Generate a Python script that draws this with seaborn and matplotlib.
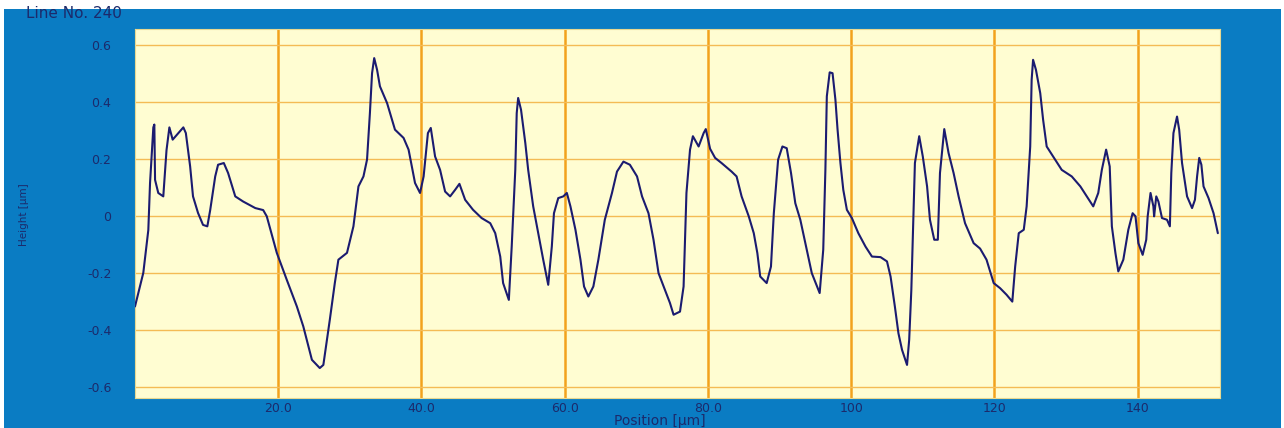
import matplotlib
matplotlib.use("Agg")
import matplotlib.pyplot as plt
from matplotlib.patches import Rectangle
import seaborn as sns
import pandas as pd

position = [0, 1.16, 1.86, 2.1, 2.56, 2.7, 2.8, 3.25, 3.95, 4.4, 4.8, 5.26, 6.05, 6.75, 7.1,
            7.7, 8.1, 8.8, 9.5, 10.1, 10.5, 11.2, 11.6, 12.4, 13.0, 14.0, 15.1, 16.8, 17.9,
            18.4, 19.8, 21.2, 22.6, 23.5, 24.7, 25.8, 26.3, 27.2, 27.9, 28.4, 29.6, 30.5,
            31.2, 31.9, 32.4, 32.8, 33.1, 33.4, 33.8, 34.2, 35.2, 36.3, 37.5, 38.2, 39.1,
            39.8, 40.3, 40.9, 41.3, 41.9, 42.6, 43.3, 44.0, 44.7, 45.3, 46.1, 47.2, 48.4,
            49.6, 50.3, 51.0, 51.4, 52.2, 52.6, 53.1, 53.3, 53.5, 53.9, 54.5, 54.9, 55.6,
            56.3, 57.0, 57.7, 58.2, 58.5, 59.1, 59.8, 60.3, 60.8, 61.5, 62.2, 62.7, 63.3,
            64.0, 64.7, 65.6, 66.6, 67.3, 68.2, 69.1, 70.1, 70.8, 71.7, 72.4, 73.1, 74.0,
            74.7, 75.2, 76.1, 76.6, 77.0, 77.5, 77.9, 78.7, 79.4, 79.7, 80.3, 81.0, 81.9,
            83.3, 84.0, 84.7, 85.7, 86.4, 86.9, 87.3, 88.2, 88.8, 89.2, 89.8, 90.4, 91.0,
            91.6, 92.2, 92.9, 93.7, 94.5, 95.6, 96.1, 96.4, 96.6, 97.0, 97.4, 97.8, 98.1,
            98.5, 98.9, 99.4, 100.1, 101.0, 102.0, 102.9, 104.1, 105.0, 105.5, 106.1,
            106.6, 107.1, 107.8, 108.1, 108.4, 108.7, 108.9, 109.5, 110.0, 110.6, 111.0,
            111.6, 112.1, 112.4, 113.0, 113.6, 114.3, 115.0, 115.9, 117.1, 118.0, 118.9,
            119.9, 120.8, 121.7, 122.5, 122.9, 123.4, 124.1, 124.5, 125.0, 125.2, 125.4,
            125.8, 126.4, 126.8, 127.3, 128.2, 129.4, 130.8, 132.0, 132.9, 133.8, 134.5,
            135.0, 135.6, 136.1, 136.4, 136.9, 137.3, 138.0, 138.7, 139.3, 139.7, 140.1,
            140.7, 141.2, 141.4, 141.8, 142.2, 142.3, 142.6, 142.9, 143.4, 144.1, 144.5,
            144.7, 145.0, 145.5, 145.8, 146.2, 146.9, 147.6, 148.0, 148.3, 148.6, 148.9,
            149.2, 149.9, 150.6, 151.2]
height = [-0.318, -0.2, -0.05, 0.115, 0.31, 0.32, 0.126, 0.08, 0.068, 0.23, 0.31, 0.267, 0.29,
          0.31, 0.29, 0.173, 0.068, 0.01, -0.032, -0.037, 0.02, 0.138, 0.179, 0.185, 0.15,
          0.068, 0.05, 0.027, 0.02, -0.002, -0.13, -0.225, -0.318, -0.388, -0.505, -0.534,
          -0.523, -0.365, -0.236, -0.154, -0.13, -0.037, 0.103, 0.138, 0.197, 0.36, 0.5,
          0.553, 0.512, 0.454, 0.395, 0.302, 0.273, 0.232, 0.115, 0.08, 0.138, 0.29, 0.308,
          0.208, 0.161, 0.085, 0.068, 0.091, 0.112, 0.056, 0.021, -0.008, -0.026, -0.061,
          -0.143, -0.236, -0.295, -0.108, 0.161, 0.36, 0.413, 0.372, 0.255, 0.161, 0.033,
          -0.061, -0.154, -0.242, -0.108, 0.009, 0.062, 0.068, 0.08, 0.033, -0.049, -0.154,
          -0.248, -0.283, -0.248, -0.154, -0.014, 0.08, 0.155, 0.19, 0.179, 0.138, 0.068,
          0.009, -0.084, -0.201, -0.26, -0.306, -0.347, -0.336, -0.248, 0.08, 0.232, 0.279,
          0.243, 0.29, 0.304, 0.235, 0.203, 0.185, 0.155, 0.138, 0.068, -0.002, -0.061,
          -0.131, -0.213, -0.236, -0.178, 0.009, 0.197, 0.243, 0.237, 0.15, 0.044, -0.014,
          -0.108, -0.201, -0.271, -0.119, 0.161, 0.419, 0.503, 0.5, 0.407, 0.302, 0.185,
          0.091, 0.021, -0.008, -0.061, -0.108, -0.143, -0.145, -0.16, -0.213, -0.318,
          -0.412, -0.47, -0.523, -0.435, -0.26, 0.015, 0.185, 0.279, 0.208, 0.103, -0.014,
          -0.084, -0.084, 0.15, 0.304, 0.22, 0.15, 0.068, -0.026, -0.096, -0.115, -0.154,
          -0.236, -0.254, -0.277, -0.301, -0.178, -0.061, -0.049, 0.033, 0.243, 0.477,
          0.547, 0.512, 0.43, 0.337, 0.243, 0.208, 0.161, 0.138, 0.103, 0.068, 0.033, 0.08,
          0.161, 0.232, 0.173, -0.037, -0.131, -0.195, -0.154, -0.049, 0.009, -0.002,
          -0.096, -0.137, -0.084, -0.002, 0.08, 0.033, -0.002, 0.068, 0.05, -0.008, -0.014,
          -0.037, 0.15, 0.29, 0.348, 0.302, 0.185, 0.068, 0.027, 0.056, 0.138, 0.203, 0.179,
          0.103, 0.062, 0.009, -0.061]

x_ticks = [20, 40, 60, 80, 100, 120, 140]
x_tick_labels = ["20.0", "40.0", "60.0", "80.0", "100", "120", "140"]
y_ticks = [0.6, 0.4, 0.2, 0, -0.2, -0.4, -0.6]
y_tick_labels = ["0.6", "0.4", "0.2", "0", "-0.2", "-0.4", "-0.6"]
title_text = "Line No. 240"
x_label = "Position [µm]"
y_label = "Height [µm]"

sns.set_style("white")
plt.rcParams["font.family"] = ["DejaVu Sans"]

BLUE = "#0a7cc3"
YELLOW = "#fffdd2"
NAVY = "#1c2a6b"
ORANGE = "#f2a21c"

fig = plt.figure(figsize=(12.84, 4.28), dpi=100, facecolor="white")
fig.patches.append(Rectangle((4 / 1284, 0), (1281 - 4) / 1284, (428 - 9) / 428,
                             transform=fig.transFigure, facecolor=BLUE,
                             edgecolor="none", zorder=-10))

ax = fig.add_axes([135 / 1284, (428 - 398) / 428, (1220 - 135) / 1284, (398 - 29) / 428])
ax.set_zorder(1)
ax.set_facecolor(YELLOW)

df = pd.DataFrame({"Position": position, "Height": height})
sns.lineplot(data=df, x="Position", y="Height", ax=ax, color="#1b1b70",
             linewidth=1.5, estimator=None, sort=False, zorder=3)

ax.set_xlim(0, 151.5)
ax.set_ylim(-0.639, 0.655)

ax.set_xticks(x_ticks)
ax.set_xticklabels(x_tick_labels)
ax.set_yticks(y_ticks)
ax.set_yticklabels(y_tick_labels)

for xv in x_ticks:
    ax.axvline(xv, color=ORANGE, linewidth=1.8, zorder=1)
for yv in y_ticks:
    ax.axhline(yv, color="#f4bb55", linewidth=1.0, zorder=1)

ax.tick_params(axis="both", length=0, colors=NAVY, labelsize=9)
ax.tick_params(axis="x", pad=3)
ax.tick_params(axis="y", pad=17)
for lbl in ax.get_xticklabels() + ax.get_yticklabels():
    lbl.set_color(NAVY)

ax.set_xlabel("")
ax.set_ylabel("")
for s in ax.spines.values():
    s.set_visible(True)
    s.set_color("#e8d890")
    s.set_linewidth(0.8)

fig.text(660 / 1284, 1 - 421 / 428, x_label, ha="center", va="center",
         color=NAVY, fontsize=10)
fig.text(24 / 1284, 1 - 215 / 428, y_label, ha="center", va="center",
         rotation=90, color=NAVY, fontsize=7.5)
fig.text(26 / 1284, 1 - 13 / 428, title_text, ha="left", va="center",
         color=NAVY, fontsize=11)

fig.savefig("out.png", dpi=100, facecolor="white")
